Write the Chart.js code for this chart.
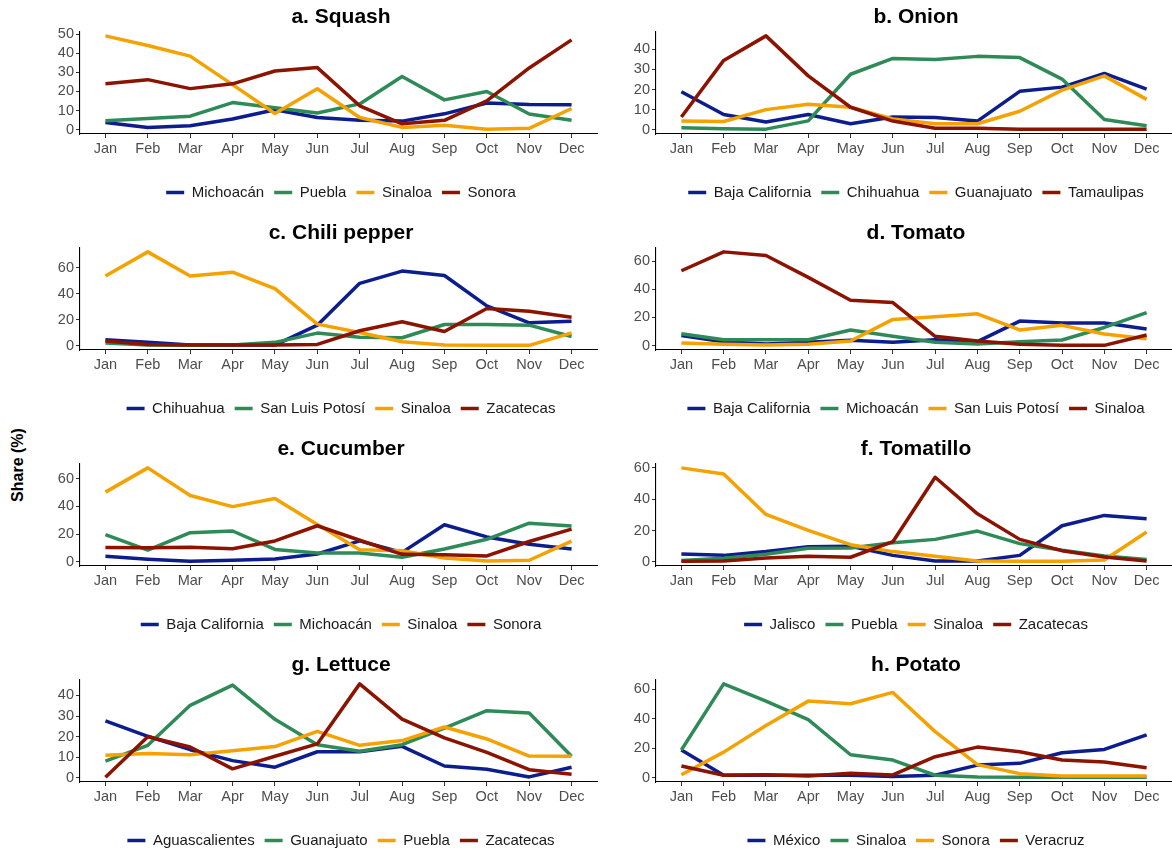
<!DOCTYPE html>
<html>
<head>
<meta charset="utf-8">
<script src="https://cdn.jsdelivr.net/npm/chart.js@4.4.1/dist/chart.umd.min.js"></script>
<style>
  html, body { margin: 0; padding: 0; background: #fff; width: 1172px; height: 852px; overflow: hidden; position: relative; }
  canvas { position: absolute; }
  #ylabel {
    position: absolute; left: 18px; top: 465px;
    transform: translate(-50%, -50%) rotate(-90deg);
    font: bold 16px "Liberation Sans", Arial, sans-serif; white-space: nowrap; color: #000;
  }
</style>
</head>
<body>
<div id="ylabel">Share (%)</div>
<script>
// Datos por cultivo (participación mensual, %)
const months = ['Jan', 'Feb', 'Mar', 'Apr', 'May', 'Jun', 'Jul', 'Aug', 'Sep', 'Oct', 'Nov', 'Dec'];
const seriesColors = ['#0c1d8e', '#2e8b57', '#f5a200', '#8b1300'];

const squashStates = ['Michoacán', 'Puebla', 'Sinaloa', 'Sonora'];
const squashShares = [
  [3.8, 1.2, 2.1, 5.6, 10.4, 6.4, 4.9, 4.5, 8.3, 14, 13.2, 13],
  [4.7, 5.9, 7.1, 14.2, 11.5, 8.7, 13.5, 27.8, 15.6, 20, 8.2, 4.9],
  [49.1, 44.1, 38.5, 23.6, 8.5, 21.4, 6.4, 1.2, 2.3, 0.2, 0.7, 11.1],
  [24, 26.2, 21.5, 24, 30.7, 32.5, 12.5, 3.1, 4.9, 15.1, 32.3, 47]
];

const onionStates = ['Baja California', 'Chihuahua', 'Guanajuato', 'Tamaulipas'];
const onionShares = [
  [18.9, 7.6, 3.8, 7.6, 3, 6.3, 6.1, 4.3, 19.1, 21.2, 28, 20.2],
  [1, 0.5, 0.3, 4.4, 27.6, 35.5, 34.9, 36.5, 35.9, 25.2, 5.1, 2],
  [4.4, 4.1, 10, 12.7, 11.2, 5.4, 3, 3, 9.2, 19.7, 26.8, 15.1],
  [6.3, 34.5, 46.7, 26.8, 11.2, 4.3, 0.7, 0.7, 0.2, 0.2, 0.3, 0.3]
];

const chiliStates = ['Chihuahua', 'San Luis Potosí', 'Sinaloa', 'Zacatecas'];
const chiliShares = [
  [4.6, 2.6, 0.5, 0.5, 0.5, 15.8, 48, 57.4, 54, 30.6, 17.6, 18.9],
  [2, 0.5, 0.3, 0.5, 2.6, 9.7, 6.6, 6.1, 16.3, 16.3, 15.8, 7.1],
  [53.6, 72.2, 53.6, 56.6, 43.9, 16.6, 10.2, 3.1, 0.5, 0.3, 0.3, 9.9],
  [3.6, 1, 0.5, 0.5, 0.5, 1, 11.5, 18.4, 11, 28.6, 26.5, 21.9]
];

const tomatoStates = ['Baja California', 'Michoacán', 'San Luis Potosí', 'Sinaloa'];
const tomatoShares = [
  [7.1, 2.8, 1.2, 2.4, 3.8, 2.4, 4.2, 2.8, 17.4, 16, 16, 11.8],
  [8.5, 4.2, 4.2, 4.2, 11.1, 6.6, 2.4, 1.2, 2.8, 4, 12.9, 23.5],
  [1.9, 0.9, 0.5, 0.9, 3.3, 18.6, 20.5, 22.6, 11.1, 14.4, 8.2, 4.9],
  [53.2, 66.6, 64, 48.5, 32.2, 30.6, 6.6, 3.3, 0.9, 0.2, 0.2, 7.5]
];

const cucumberStates = ['Baja California', 'Michoacán', 'Sinaloa', 'Sonora'];
const cucumberShares = [
  [3.8, 1.7, 0.2, 1, 1.9, 5.5, 15, 6.7, 26.7, 17.9, 12.6, 9.1],
  [19.6, 8.4, 21, 22.2, 8.8, 6.2, 6.2, 3.1, 9.1, 16.2, 27.9, 25.8],
  [50.4, 68, 48, 39.9, 45.8, 27, 8.6, 7.9, 2.6, 0.5, 1, 14.8],
  [10.3, 10, 10.5, 9.3, 15, 26, 15.5, 5.3, 5, 4.1, 14.6, 23.6]
];

const tomatilloStates = ['Jalisco', 'Puebla', 'Sinaloa', 'Zacatecas'];
const tomatilloShares = [
  [5.1, 4.2, 6.6, 9.7, 10, 4.2, 0.6, 0.6, 4.2, 23.1, 29.7, 27.5],
  [1, 2.3, 4.9, 8.7, 8.9, 12.3, 14.4, 19.7, 11.7, 7.4, 3.8, 1.5],
  [60, 56.1, 30.3, 20.1, 11, 6.6, 3.6, 0.6, 0.4, 0.4, 1.3, 19.1],
  [0.4, 0.6, 2.5, 3.6, 3, 12.9, 54, 30.7, 14.4, 7.2, 3.2, 0.6]
];

const lettuceStates = ['Aguascalientes', 'Guanajuato', 'Puebla', 'Zacatecas'];
const lettuceShares = [
  [27.7, 20.2, 13.7, 8.4, 5.2, 12.7, 12.7, 15.3, 5.8, 4.2, 0.5, 5.2],
  [8.1, 15.8, 35.2, 45, 28.4, 16.1, 12.9, 16.1, 24.2, 32.6, 31.5, 10.5],
  [11, 11.9, 11.3, 13.2, 15.2, 22.6, 15.8, 18.1, 24.7, 18.9, 10.6, 10.5],
  [0.3, 20, 15, 4.4, 10.5, 16.5, 45.6, 28.5, 19.4, 12.4, 4, 1.8]
];

const potatoStates = ['México', 'Sinaloa', 'Sonora', 'Veracruz'];
const potatoShares = [
  [18.7, 1.6, 1.6, 1.6, 1.6, 0.7, 1.6, 8.5, 9.7, 16.9, 19.1, 29],
  [18.7, 63.6, 51.9, 39.3, 15.5, 11.9, 1.6, 0.4, 0.2, 0.2, 0.2, 0.2],
  [2, 17.3, 35.3, 51.9, 50.1, 57.8, 31.2, 8.8, 2.7, 1.1, 1.1, 1.1],
  [7.9, 1.6, 2, 1.1, 2.9, 1.8, 14.2, 20.7, 17.5, 11.9, 10.6, 6.7]
];

const panelTitles = ['a. Squash', 'b. Onion', 'c. Chili pepper', 'd. Tomato', 'e. Cucumber', 'f. Tomatillo', 'g. Lettuce', 'h. Potato'];
const panelStates = [squashStates, onionStates, chiliStates, tomatoStates, cucumberStates, tomatilloStates, lettuceStates, potatoStates];
const panelShares = [squashShares, onionShares, chiliShares, tomatoShares, cucumberShares, tomatilloShares, lettuceShares, potatoShares];
const panelSteps = [10, 10, 20, 20, 20, 20, 10, 20];

Chart.defaults.font.family = '"Liberation Sans", Arial, sans-serif';

const tickMarks = { display: true, drawOnChartArea: false, tickLength: 4, color: '#333333', lineWidth: 1 };
const axisLine = { display: true, color: '#000000', width: 1.1 };

function buildPanel(idx) {
  const col = idx % 2;
  const row = Math.floor(idx / 2);
  const left = col === 0 ? 40 : 630;
  const width = col === 0 ? 602 : 572;
  const yWidth = col === 0 ? 40 : 26;
  const rightGap = col === 0 ? 45 : 30;

  const canvas = document.createElement('canvas');
  canvas.width = width;
  canvas.height = 216;
  canvas.style.left = left + 'px';
  canvas.style.top = (row * 216) + 'px';
  document.body.appendChild(canvas);

  const shares = panelShares[idx];
  const all = shares.flat();
  const lo = Math.min(...all);
  const hi = Math.max(...all);
  const pad = (hi - lo) * 0.05;
  const step = panelSteps[idx];

  const datasets = panelStates[idx].map((state, i) => ({
    label: state,
    data: months.map((m, j) => ({ x: j, y: shares[i][j] })),
    borderColor: seriesColors[i],
    backgroundColor: seriesColors[i],
    borderWidth: 3.5,
    pointRadius: 0,
    fill: false,
    tension: 0,
    borderJoinStyle: 'round',
    order: 3 - i
  }));

  new Chart(canvas, {
    type: 'line',
    data: { datasets },
    options: {
      responsive: false,
      animation: false,
      devicePixelRatio: 1,
      layout: { padding: { top: 0, bottom: 6, left: 0, right: 0 } },
      plugins: {
        title: {
          display: true,
          text: panelTitles[idx],
          color: '#000',
          font: { size: 21, weight: 'bold' },
          padding: { top: 5, bottom: 1 }
        },
        legend: {
          position: 'bottom',
          labels: {
            usePointStyle: true,
            pointStyle: 'line',
            pointStyleWidth: 18,
            boxHeight: 15,
            color: '#1a1a1a',
            font: { size: 15 },
            padding: 10,
            sort: (a, b) => a.datasetIndex - b.datasetIndex
          }
        },
        tooltip: { enabled: false }
      },
      scales: {
        x: {
          type: 'linear',
          min: -0.6,
          max: 11.6,
          afterBuildTicks: s => { s.ticks = months.map((m, i) => ({ value: i })); },
          ticks: { callback: v => months[v], color: '#4d4d4d', font: { size: 14.5 }, padding: 2, maxRotation: 0, autoSkip: false },
          grid: tickMarks,
          border: axisLine,
          afterFit: s => { s.height = 41; }
        },
        y: {
          min: lo - pad,
          max: hi + pad,
          afterBuildTicks: s => { s.ticks = s.ticks.filter(t => t.value >= 0 && Math.abs(t.value % step) < 1e-9); },
          ticks: { stepSize: step, includeBounds: false, autoSkip: false, color: '#4d4d4d', font: { size: 14.5 }, padding: 2 },
          grid: tickMarks,
          border: axisLine,
          afterFit: s => { s.width = yWidth; }
        },
        yRight: {
          position: 'right',
          ticks: { display: false },
          grid: { display: false },
          border: { display: false },
          afterFit: s => { s.width = rightGap; }
        }
      }
    }
  });
}

for (let i = 0; i < panelTitles.length; i++) buildPanel(i);
</script>
</body>
</html>
